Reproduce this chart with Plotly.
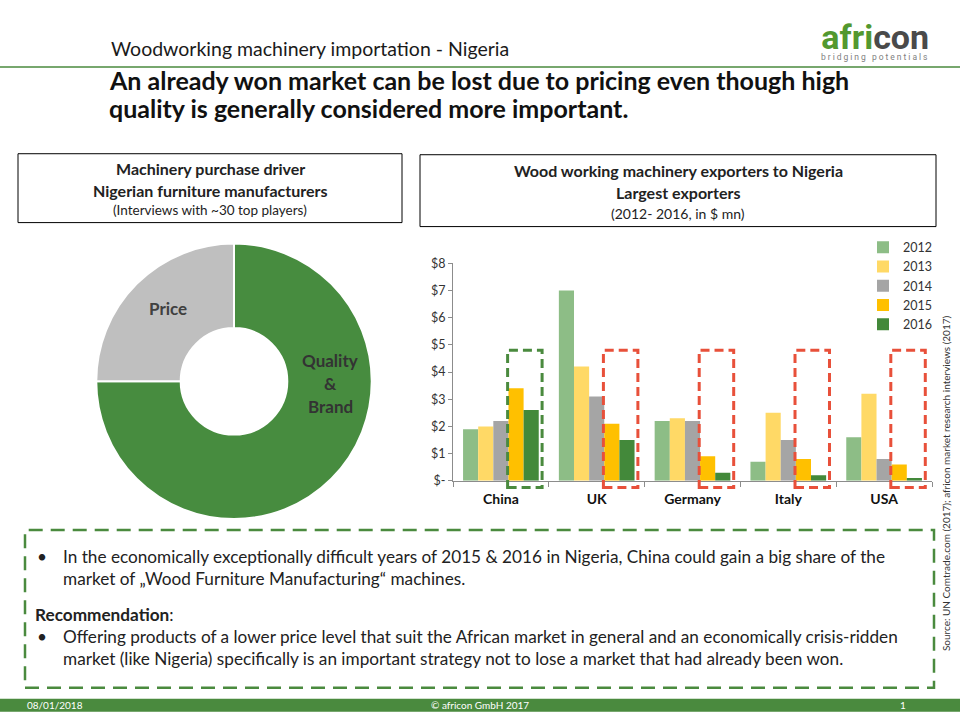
import plotly.graph_objects as go

# ---------------- data ----------------
countries = ["China", "UK", "Germany", "Italy", "USA"]
years = ["2012", "2013", "2014", "2015", "2016"]
v2012 = [1.9, 7.0, 2.2, 0.7, 1.6]
v2013 = [2.0, 4.2, 2.3, 2.5, 3.2]
v2014 = [2.2, 3.1, 2.2, 1.5, 0.8]
v2015 = [3.4, 2.1, 0.9, 0.8, 0.6]
v2016 = [2.6, 1.5, 0.3, 0.2, 0.1]
series_values = [v2012, v2013, v2014, v2015, v2016]
series_colors = ["#8DBD86", "#FFD966", "#A5A5A5", "#FFC000", "#43893A"]

y_tickvals = [0, 1, 2, 3, 4, 5, 6, 7, 8]
y_ticktext = ["$-", "$1", "$2", "$3", "$4", "$5", "$6", "$7", "$8"]

driver_labels = ["Quality & Brand", "Price"]
driver_values = [75, 25]
driver_colors = ["#478C3F", "#BFBFBF"]

W, H = 960, 720
FONT = "Lato"
GREEN = "#4A8A3E"
RED = "#E8503A"

# small vertical calibration of the photographed page
VS, VO = 0.981, 7.0


def px(x):
    return x / W


def py(y):
    return 1 - ((y - VO) / VS) / H


fig = go.Figure()

# ---------------- donut ----------------
fig.add_trace(go.Pie(
    labels=driver_labels, values=driver_values, hole=0.387, sort=False,
    direction="clockwise", rotation=0,
    marker=dict(colors=driver_colors, line=dict(color="white", width=2)),
    textinfo="none", hoverinfo="label+percent", showlegend=False,
    domain=dict(x=[px(96), px(372)], y=[py(519), py(243)]),
))

# ---------------- bars ----------------
for yr, vals, col in zip(years, series_values, series_colors):
    fig.add_trace(go.Bar(x=countries, y=vals, name=yr, marker_color=col,
                         marker_line_width=0))

y_dom = [py(480.7), py(262.7)]
y_rng = [0, 8]

fig.update_layout(
    width=W, height=H, margin=dict(l=0, r=0, t=0, b=0),
    paper_bgcolor="white", plot_bgcolor="white",
    font=dict(family=FONT, color="#222222"),
    barmode="group", bargap=0.21, bargroupgap=0,
    xaxis=dict(domain=[px(453), px(932)], showline=True, linecolor="#8C8C8C",
               linewidth=1, ticks="outside", tickson="boundaries", ticklen=5,
               tickcolor="#8C8C8C", showgrid=False, zeroline=False,
               ticklabelstandoff=5,
               tickfont=dict(family=FONT, size=14, color="#111111", weight="bold")),
    yaxis=dict(domain=y_dom, range=y_rng, showline=True, linecolor="#8C8C8C",
               linewidth=1, ticks="outside", ticklen=4, tickcolor="#8C8C8C",
               tickvals=y_tickvals, ticktext=y_ticktext, showgrid=False,
               zeroline=False, tickfont=dict(family=FONT, size=12.5, color="#333333")),
    legend=dict(x=px(863), y=py(232), xanchor="left", yanchor="top",
                font=dict(family=FONT, size=12.5, color="#333333"),
                bgcolor="rgba(0,0,0,0)", tracegroupgap=0, itemwidth=30),
)


def ypaper(v):
    return y_dom[0] + (v - y_rng[0]) / (y_rng[1] - y_rng[0]) * (y_dom[1] - y_dom[0])


shapes = []
# dashed highlight boxes around 2015-2016 bars
for i, c in enumerate(countries):
    shapes.append(dict(type="rect", xref="x", yref="paper",
                       x0=i + 0.07, x1=i + 0.43, y0=ypaper(-0.25), y1=ypaper(4.8),
                       line=dict(color=GREEN if i == 0 else RED, width=3, dash="9px,5px"),
                       fillcolor="rgba(0,0,0,0)"))

# header line
shapes.append(dict(type="line", xref="paper", yref="paper", x0=0, x1=1,
                   y0=py(66), y1=py(66), line=dict(color=GREEN, width=1.5)))
# title boxes
shapes.append(dict(type="rect", xref="paper", yref="paper", x0=px(18), x1=px(402),
                   y0=py(222), y1=py(153), line=dict(color="#000000", width=1)))
shapes.append(dict(type="rect", xref="paper", yref="paper", x0=px(420), x1=px(936),
                   y0=py(226), y1=py(154), line=dict(color="#000000", width=1)))
# bottom dashed box
shapes.append(dict(type="rect", xref="paper", yref="paper", x0=px(25), x1=px(934),
                   y0=py(688), y1=py(530),
                   line=dict(color=GREEN, width=2.5, dash="14px,8px")))
# footer bar
shapes.append(dict(type="rect", xref="paper", yref="paper", x0=0, x1=1,
                   y0=py(712), y1=py(699), fillcolor=GREEN, line=dict(width=0),
                   layer="below"))
fig.update_layout(shapes=shapes)

ann = []


def txt(x, y, s, size=14, color="#222222", bold=False, xanchor="left", **kw):
    ann.append(dict(x=px(x), y=py(y), xref="paper", yref="paper", text=s,
                    showarrow=False, xanchor=xanchor, yanchor="middle",
                    font=dict(family=kw.pop("family", FONT), size=size, color=color,
                              weight="bold" if bold else "normal"), **kw))


# header
txt(109, 48, "Woodworking machinery importation - Nigeria", size=19.5, color="#1a1a1a")
txt(875, 39,
    "<span style='font-size:34px;font-weight:bold;color:#52982F'>afri</span>"
    "<span style='font-size:34px;font-weight:bold;color:#4a4a4a'>con</span><br>"
    "<span style='letter-spacing:2px'>bridging potentials</span>",
    size=8.5, color="#808080", xanchor="center", family="Roboto", align="center")
# title
txt(107, 79, "An already won market can be lost due to pricing even though high",
    size=25, bold=True, color="#111111")
txt(107, 107, "quality is generally considered more important.", size=25, bold=True,
    color="#111111")
# box titles
txt(210, 168, "Machinery purchase driver", size=16, bold=True, xanchor="center")
txt(210, 190, "Nigerian furniture manufacturers", size=16, bold=True, xanchor="center")
txt(210, 209, "(Interviews with ~30 top players)", size=13.5, xanchor="center")
txt(678, 170, "Wood working machinery exporters to Nigeria", size=16, bold=True,
    xanchor="center")
txt(678, 192, "Largest exporters", size=16, bold=True, xanchor="center")
txt(678, 213, "(2012- 2016, in $ mn)", size=14, xanchor="center")
# donut labels
txt(168, 308, "Price", size=17, bold=True, color="#404040", xanchor="center")
txt(330, 360, "Quality", size=17, bold=True, color="#333333", xanchor="center")
txt(330, 383, "&", size=17, bold=True, color="#333333", xanchor="center")
txt(330, 406, "Brand", size=17, bold=True, color="#333333", xanchor="center")
# body text
BS = 17.2
txt(35, 557, "•", size=BS)
txt(61, 557, "In the economically exceptionally difficult years of 2015 & 2016 in Nigeria, "
    "China could gain a big share of the", size=BS)
txt(61, 579, "market of „Wood Furniture Manufacturing“ machines.", size=BS)
txt(33, 615, "<b>Recommendation</b>:", size=BS)
txt(35, 637, "•", size=BS)
txt(61, 637, "Offering products of a lower price level that suit the African market in "
    "general and an economically crisis-ridden", size=BS)
txt(61, 659, "market (like Nigeria) specifically is an important strategy not to lose a "
    "market that had already been won.", size=BS)
# source
ann.append(dict(x=px(946), y=py(483), xref="paper", yref="paper",
                text="Source: UN Comtrade.com (2017); africon market research interviews (2017)",
                showarrow=False, textangle=-90, xanchor="center", yanchor="middle",
                font=dict(family=FONT, size=10, color="#333333")))
# footer
txt(55, 705.5, "08/01/2018", size=10, color="white", xanchor="center")
txt(480, 705.5, "© africon GmbH 2017", size=10, color="white", xanchor="center")
txt(903, 705.5, "1", size=10, color="white", xanchor="center")

fig.update_layout(annotations=ann)
fig.write_html(
    "out.html",
    config={"displayModeBar": False},
    post_script=(
        "document.documentElement.style.margin='0';"
        "document.documentElement.style.overflow='hidden';"
        "document.body.style.margin='0';document.body.style.overflow='hidden';"
        "var d=document.getElementById('{plot_id}');"
        "d.style.position='absolute';d.style.top='0px';d.style.left='0px';"
    ),
)
